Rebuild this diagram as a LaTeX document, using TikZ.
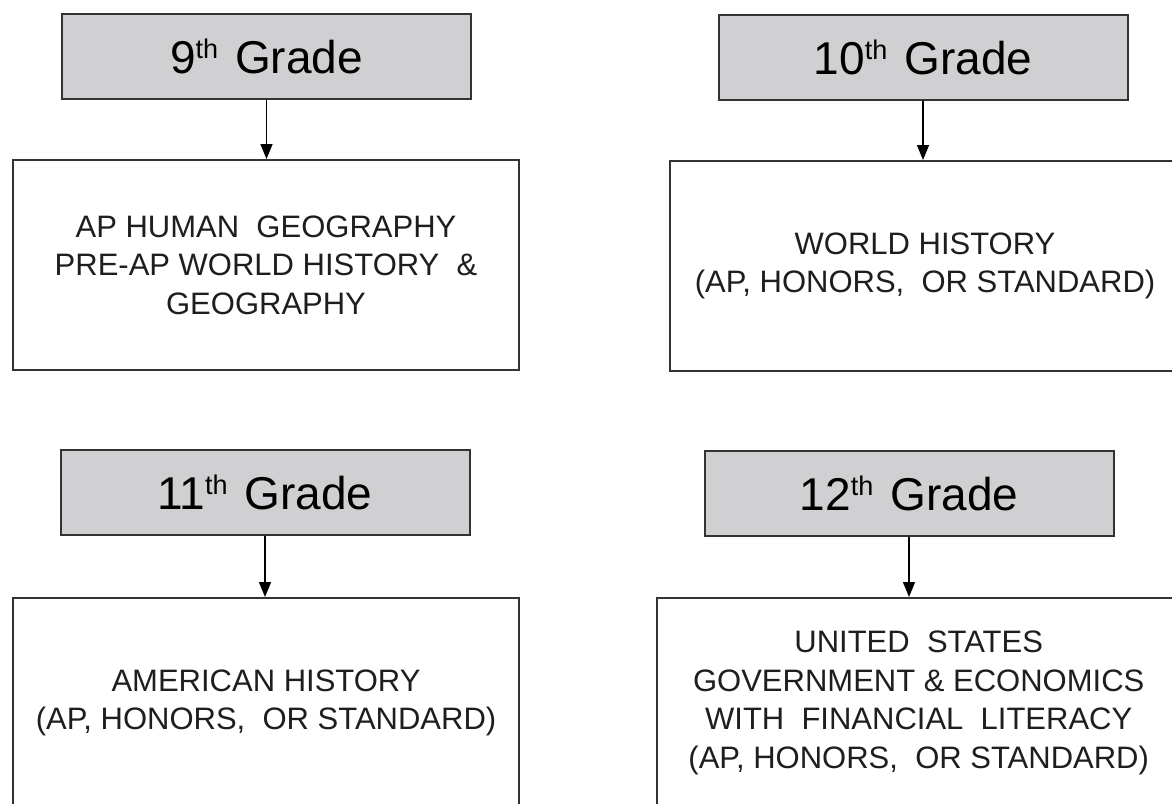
\documentclass[tikz,border=0pt]{standalone}
\usepackage{fontspec}
\setmainfont{Liberation Sans}
\usetikzlibrary{arrows.meta}
\definecolor{gradefill}{HTML}{D0CFD1}
\definecolor{edgegray}{HTML}{333333}
\definecolor{ink}{HTML}{1E1E1E}
\newcommand\gth{\raisebox{15pt}{\fontsize{27}{27}\selectfont th}\hspace*{17pt}}
\begin{document}
\begin{tikzpicture}[x=1pt,y=-1pt,
  gradebox/.style={draw=edgegray,line width=2pt,fill=gradefill,minimum width=409pt,
    minimum height=85pt,inner sep=0pt,font=\fontsize{46}{50}\selectfont,text=black},
  coursebox/.style={draw=edgegray,line width=2pt,fill=white,minimum height=210pt,
    inner sep=0pt,align=center,font=\fontsize{31}{38.5}\selectfont,text=ink},
  link/.style={draw=black,line width=1.5pt,-{Triangle[length=15pt,width=12pt]}}]
\useasboundingbox (0,0) rectangle (1172,803);
\clip (0,0) rectangle (1172,803);
\fill[white] (0,0) rectangle (1172,803);
% top row
\node[gradebox] (g9) at (266.5,56) {9\gth Grade};
\node[coursebox,minimum width=506pt] (c9) at (266,265)
  {AP HUMAN\ \ GEOGRAPHY\\PRE-AP WORLD HISTORY\ \ \&\\GEOGRAPHY};
\node[gradebox] (g10) at (923,57) {10\gth Grade};
\node[coursebox,minimum width=510pt] (c10) at (925,266)
  {WORLD HISTORY\\(AP, HONORS,\ \ OR STANDARD)};
% bottom row
\node[gradebox] (g11) at (265,492.5) {11\gth Grade};
\node[coursebox,minimum width=506pt] (c11) at (266,703)
  {AMERICAN HISTORY\\(AP, HONORS,\ \ OR STANDARD)};
\node[gradebox] (g12) at (909,493.5) {12\gth Grade};
\node[coursebox,minimum width=523pt] (c12) at (918.7,703)
  {UNITED\ \ STATES\\GOVERNMENT \& ECONOMICS\\WITH\ \ FINANCIAL\ \ LITERACY\\(AP, HONORS,\ \ OR STANDARD)};
% connectors
\draw[link] (g9.south) -- (g9.south |- c9.north);
\draw[link] (g10.south) -- (g10.south |- c10.north);
\draw[link] (g11.south) -- (g11.south |- c11.north);
\draw[link] (g12.south) -- (g12.south |- c12.north);
\end{tikzpicture}
\end{document}
